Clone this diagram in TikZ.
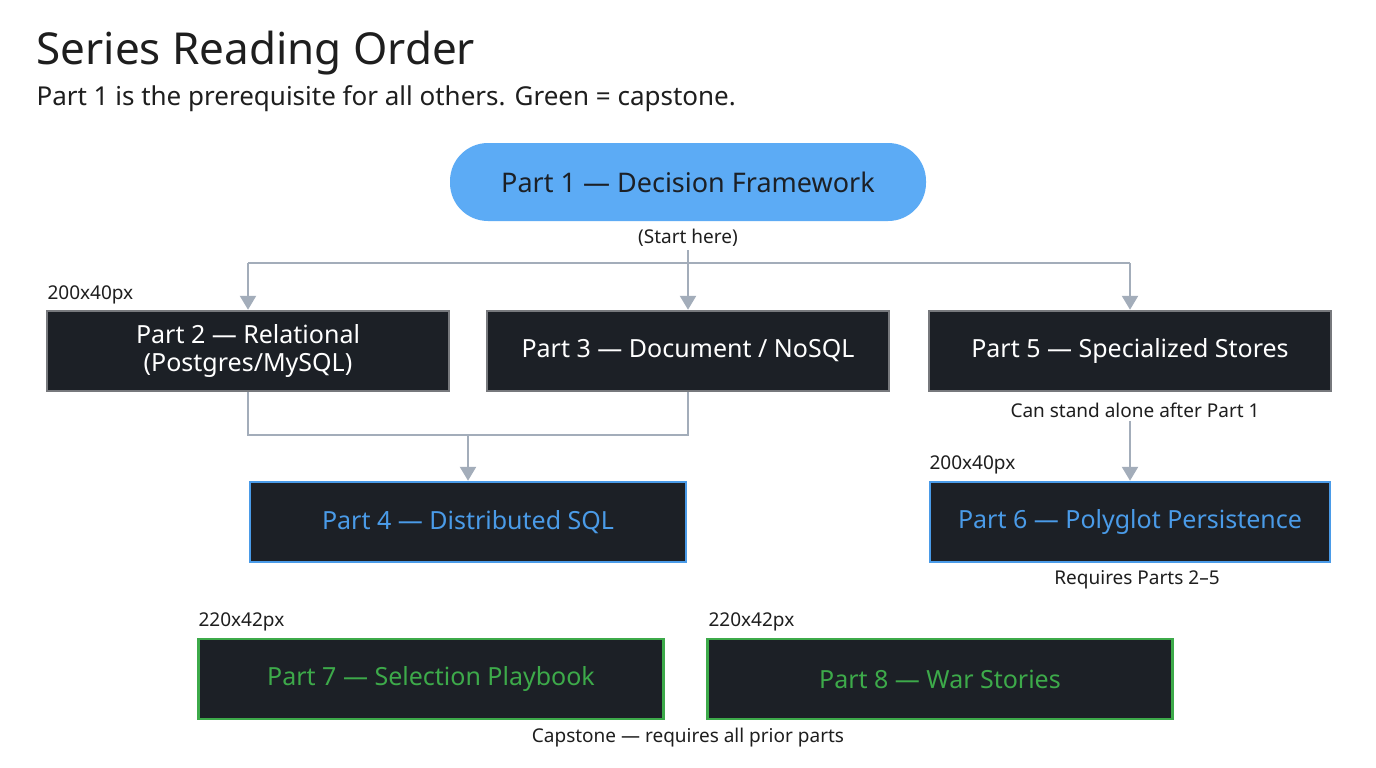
\documentclass[tikz,border=0pt]{standalone}
\usepackage{fontspec}
\setmainfont{Noto Sans}
\usetikzlibrary{arrows.meta}
\definecolor{dark}{HTML}{1C2026}
\definecolor{lblue}{HTML}{5CABF5}
\definecolor{bblue}{HTML}{4A9BE8}
\definecolor{bgreen}{HTML}{3DAA4A}
\definecolor{conn}{HTML}{A3ADBA}
\definecolor{txt}{HTML}{1E1E1E}
\begin{document}
\begin{tikzpicture}[x=1pt,y=-1pt,
  box/.style={draw=#1,fill=dark,line width=2.5pt,minimum height=80pt,align=center,font=\fontsize{25}{28}\selectfont,text=white},
  sm/.style={font=\fontsize{19}{22}\selectfont,text=txt},
  conn/.style={draw=conn,line width=2.5pt},
  arr/.style={conn,-{Triangle[length=14pt,width=16pt]}}]
\fill[white] (0,0) rectangle (1376,768);
\useasboundingbox (0,0) rectangle (1376,768);
\node[anchor=west,font=\fontsize{44}{50}\selectfont\bfseries,text=txt] (title) at (33,53) {Series Reading Order};
\node[anchor=west,font=\fontsize{26}{30}\selectfont,text=txt] (sub) at (33,99) {Part 1 is the prerequisite for all others. Green = capstone.};
\node[fill=lblue,rounded corners=38pt,minimum width=476pt,minimum height=78pt,font=\fontsize{27}{30}\selectfont\bfseries,text=dark] (p1) at (688,182) {Part 1 — Decision Framework};
\node[sm] (start) at (688,238) {(Start here)};
\node[box=dark!60,minimum width=402pt] (p2) at (248,351) {Part 2 — Relational\\(Postgres/MySQL)};
\node[box=dark!60,minimum width=402pt] (p3) at (688,351) {Part 3 — Document / NoSQL};
\node[box=dark!60,minimum width=402pt] (p5) at (1130,351) {Part 5 — Specialized Stores};
\node[box=bblue,minimum width=436pt,text=bblue] (p4) at (468,522) {Part 4 — Distributed SQL};
\node[box=bblue,minimum width=400pt,text=bblue] (p6) at (1130,522) {Part 6 — Polyglot Persistence};
\node[box=bgreen,minimum width=465pt,text=bgreen] (p7) at (431,679) {Part 7 — Selection Playbook};
\node[box=bgreen,minimum width=465pt,text=bgreen] (p8) at (940,679) {Part 8 — War Stories};
\node[sm,anchor=west] (d1) at (44,295) {200x40px};
\node[sm,anchor=west] (d2) at (926,465) {200x40px};
\node[sm,anchor=west] (d3) at (195,622) {220x42px};
\node[sm,anchor=west] (d4) at (705,622) {220x42px};
\node[sm] (alone) at (1135,410) {Can stand alone after Part 1};
\node[sm] (req) at (1137,580) {Requires Parts 2–5};
\node[sm] (cap) at (688,738) {Capstone — requires all prior parts};
\coordinate (h) at (688,263);
\draw[conn] (start.south) -- (h);
\draw[conn] (248,263) -- (1130,263);
\draw[arr] (248,263) -- (p2.north);
\draw[arr] (h) -- (p3.north);
\draw[arr] (1130,263) -- (p5.north);
\draw[conn] (p2.south) -- (248,435) -- (688,435) -- (p3.south);
\draw[arr] (468,435) -- (p4.north);
\draw[arr] (alone.south -| p6.north) -- (p6.north);
\end{tikzpicture}
\end{document}
